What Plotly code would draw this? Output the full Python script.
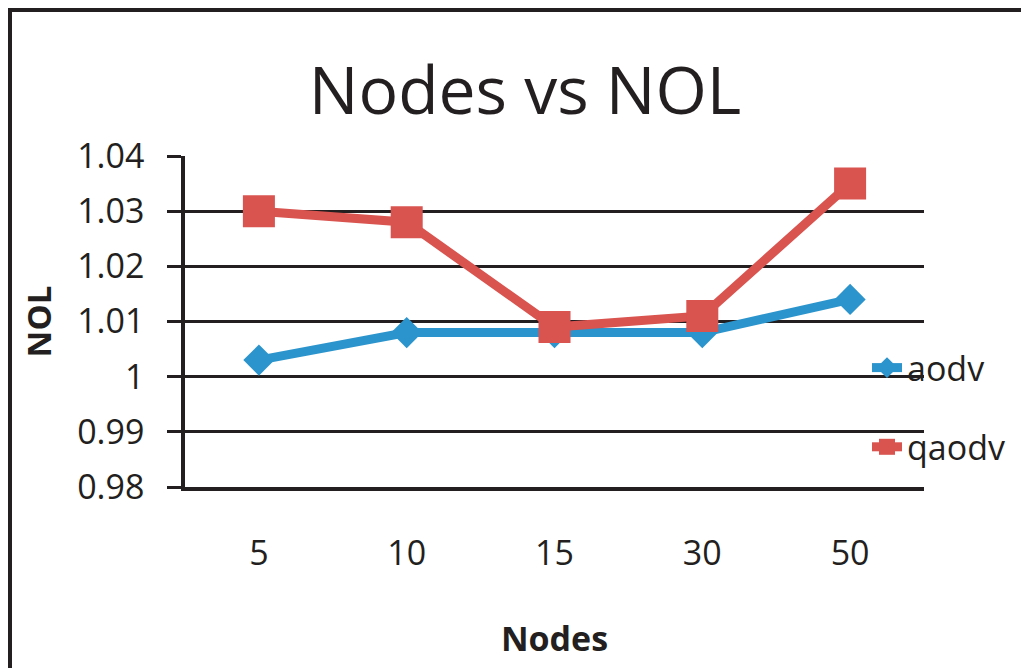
import plotly.graph_objects as go

nodes = ["5", "10", "15", "30", "50"]
aodv = [1.003, 1.008, 1.008, 1.008, 1.014]
qaodv = [1.030, 1.028, 1.009, 1.011, 1.035]
y_ticks = [0.98, 0.99, 1.00, 1.01, 1.02, 1.03, 1.04]
y_tick_labels = ["0.98", "0.99", "1", "1.01", "1.02", "1.03", "1.04"]

BLUE = "#2C94CC"
RED = "#D9534F"
FONT = "Open Sans"
INK = "#231F20"

fig = go.Figure()
fig.add_trace(go.Scatter(
    x=nodes, y=aodv, name="aodv", mode="lines+markers",
    line=dict(color=BLUE, width=9),
    marker=dict(symbol="diamond", size=24, color=BLUE),
    legendgroup="a",
))
fig.add_trace(go.Scatter(
    x=nodes, y=qaodv, name="qaodv", mode="lines+markers",
    line=dict(color=RED, width=9),
    marker=dict(symbol="square", size=32, color=RED),
    legendgroup="b",
))

# page body has an 8px margin; figure coordinates = page coordinates - 8
OFF = 8
W, H = 1029 - OFF, 668 - OFF
L, R, T, B = 185 - OFF, 924 - OFF, 156 - OFF, 487 - OFF

def px_x(p):
    return (p - OFF - L) / (R - L)

def px_y(p):
    return (B - (p - OFF)) / (B - T)

fig.update_layout(
    width=W, height=H,
    margin=dict(l=L, r=W - R, t=T, b=H - B),
    paper_bgcolor="white", plot_bgcolor="white",
    font=dict(family=FONT, color=INK, size=34),
    title=dict(text="Nodes vs NOL", font=dict(size=66, family=FONT, color=INK),
               x=(525 - OFF) / W, xanchor="center", y=1 - (91 - OFF) / H, yanchor="middle"),
    showlegend=True,
    legend=dict(x=px_x(867), xanchor="left", y=px_y(339), yanchor="top",
                font=dict(size=34, family=FONT, color=INK),
                bgcolor="rgba(0,0,0,0)", tracegroupgap=32,
                traceorder="grouped", itemsizing="trace"),
    shapes=[dict(type="rect", xref="paper", yref="paper",
                 x0=px_x(10), x1=px_x(1080), y0=px_y(720), y1=px_y(10),
                 line=dict(color=INK, width=4), fillcolor="rgba(0,0,0,0)",
                 layer="below")],
)
fig.update_xaxes(
    type="category", range=[-0.5, 4.5],
    showline=True, linecolor=INK, linewidth=3.5,
    showgrid=False, ticks="", ticklabelstandoff=33,
    tickfont=dict(size=34, family=FONT, color=INK),
    title=dict(text="<b>Nodes</b>", font=dict(size=34, family=FONT, color=INK), standoff=55),
)
fig.update_yaxes(
    range=[0.98, 1.04], tickmode="array", tickvals=y_ticks, ticktext=y_tick_labels,
    showline=True, linecolor=INK, linewidth=3.5,
    showgrid=True, gridcolor=INK, gridwidth=2.5,
    ticks="outside", ticklen=14, tickwidth=2.5, tickcolor=INK,
    ticklabelstandoff=16,
    tickfont=dict(size=34, family=FONT, color=INK),
    title=dict(text="<b>NOL</b>", font=dict(size=33, family=FONT, color=INK), standoff=17),
    zeroline=False,
)

fig.write_html("out.html")
